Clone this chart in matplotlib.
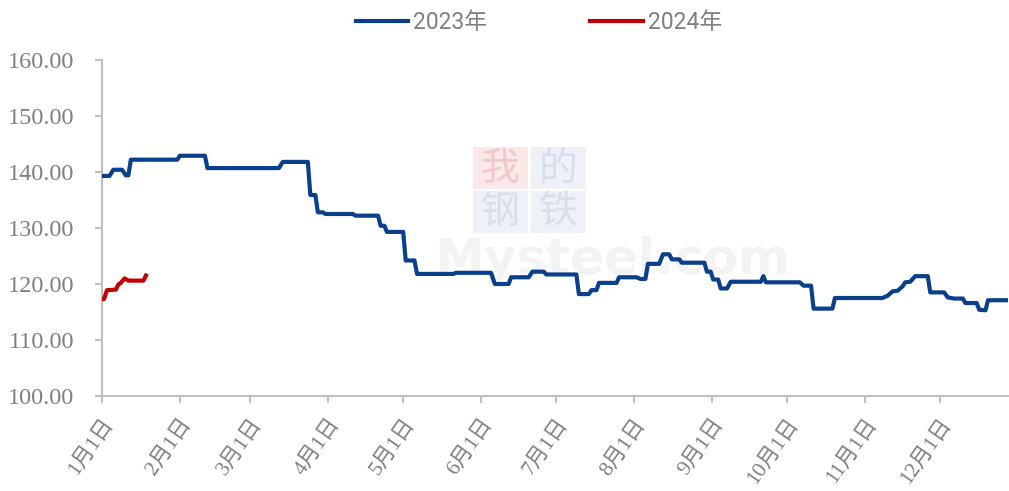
import matplotlib.pyplot as plt
import matplotlib.patches as patches

# day of year (0 = Jan 1) and price values
days_2023 = [0, 3, 4.5, 8, 9.5, 10.5, 11.5, 30, 31, 41, 42, 70.5, 72, 82, 83, 85, 86, 88, 89,
             100, 101, 110, 111, 112.5, 113.5, 120, 121, 124.5, 125.5, 140, 141, 155, 156.5,
             162, 163, 170, 171.5, 176, 177, 189, 190, 194, 195, 197, 198, 205, 206, 213,
             214.5, 216.5, 217.5, 222, 223.5, 226, 227, 230, 231, 240, 241, 242.5, 243.5,
             245.5, 246.5, 249, 250.5, 262.5, 263.5, 264.5, 278, 279.5, 282.5, 283.5, 291,
             292, 311, 313, 315, 317, 319, 320, 322, 324, 329, 330, 335.5, 337, 339.5, 343,
             344, 348.5, 349.5, 352, 353, 361]
vals_2023 = [139.3, 139.3, 140.4, 140.4, 139.4, 139.4, 142.2, 142.2, 142.9, 142.9, 140.7, 140.7,
             141.8, 141.8, 135.9, 135.9, 132.8, 132.8, 132.5, 132.5, 132.2, 132.2, 130.4, 130.4,
             129.3, 129.3, 124.2, 124.2, 121.8, 121.8, 122.0, 122.0, 120.0, 120.0, 121.2, 121.2,
             122.2, 122.2, 121.7, 121.7, 118.2, 118.2, 118.9, 118.9, 120.2, 120.2, 121.2, 121.2,
             120.9, 120.9, 123.6, 123.6, 125.3, 125.3, 124.4, 124.4, 123.8, 123.8, 122.2, 122.2,
             120.8, 120.8, 119.2, 119.2, 120.4, 120.4, 121.4, 120.3, 120.3, 119.7, 119.7, 115.6,
             115.6, 117.5, 117.5, 117.9, 118.7, 118.8, 119.6, 120.3, 120.4, 121.4, 121.4, 118.5,
             118.5, 117.6, 117.4, 117.4, 116.6, 116.6, 115.4, 115.3, 117.1, 117.1]

days_2024 = [0, 0.8, 2, 5.5, 6.5, 7.5, 9, 10.5, 16.5, 17.5]
vals_2024 = [117.3, 117.3, 118.9, 119.0, 119.9, 120.2, 121.0, 120.6, 120.6, 121.5]

month_starts = [0, 31, 59, 90, 120, 151, 181, 212, 243, 273, 304, 334]
month_labels = [f"{m}月1日" for m in range(1, 13)]
y_ticks = [100, 110, 120, 130, 140, 150, 160]

blue = '#0A3F8C'
red = '#C00000'
grey_txt = '#7F7F7F'
axis_col = '#BFBFBF'

fig = plt.figure(figsize=(10.09, 4.91), dpi=100)
ax = fig.add_axes([0.1011, 0.1935, 0.898, 0.6843])

# faint watermark
wm_boxes = [(0.409, 0.615, '#FBE9E9', '我', '#F4C8C8'), (0.473, 0.615, '#EEF1F8', '的', '#D8DEEC'),
            (0.409, 0.485, '#EEF1F8', '钢', '#D8DEEC'), (0.473, 0.485, '#EEF1F8', '铁', '#D8DEEC')]
for bx, by, fc, ch, tc in wm_boxes:
    ax.add_patch(patches.Rectangle((bx, by), 0.061, 0.125, transform=ax.transAxes,
                                   facecolor=fc, edgecolor='none', zorder=0))
    ax.text(bx + 0.0305, by + 0.062, ch, transform=ax.transAxes, ha='center', va='center',
            fontsize=28, color=tc, family=['Noto Sans CJK SC'], zorder=0)
ax.text(0.367, 0.405, 'Mysteel.com', transform=ax.transAxes, ha='left', va='center',
        fontsize=36, color='#F3F3F3', family=['DejaVu Sans'], fontweight='bold', zorder=0)

ax.plot(days_2023, vals_2023, color=blue, lw=3, label='2023年', solid_joinstyle='round', zorder=3)
ax.plot(days_2024, vals_2024, color=red, lw=3, label='2024年', solid_joinstyle='round', zorder=3)

ax.set_xlim(0, 361)
ax.set_ylim(100, 160)
ax.set_yticks(y_ticks)
ax.set_yticklabels([f"{v:.2f}" for v in y_ticks], family=['Liberation Serif'],
                   fontsize=17.5, color=grey_txt)
ax.set_xticks(month_starts)
ax.set_xticklabels(month_labels, rotation=55, ha='right', rotation_mode='anchor',
                   family=['Liberation Serif', 'Noto Sans CJK SC'], fontsize=15.5, color=grey_txt)

for s in ['top', 'right']:
    ax.spines[s].set_visible(False)
for s in ['left', 'bottom']:
    ax.spines[s].set_color(axis_col)
    ax.spines[s].set_linewidth(1.5)
ax.tick_params(axis='both', color=axis_col, width=1.5, length=5)
ax.tick_params(axis='x', pad=9)
ax.tick_params(axis='y', pad=15)

leg = ax.legend(loc='center', bbox_to_anchor=(0.482, 1.113), ncol=2, frameon=False,
                prop={'family': ['Roboto', 'Noto Sans CJK SC'], 'size': 16.5},
                handlelength=2.3, handletextpad=0.2, columnspacing=4.5)
for t in leg.get_texts():
    t.set_color(grey_txt)

fig.savefig('out.png', dpi=100)
